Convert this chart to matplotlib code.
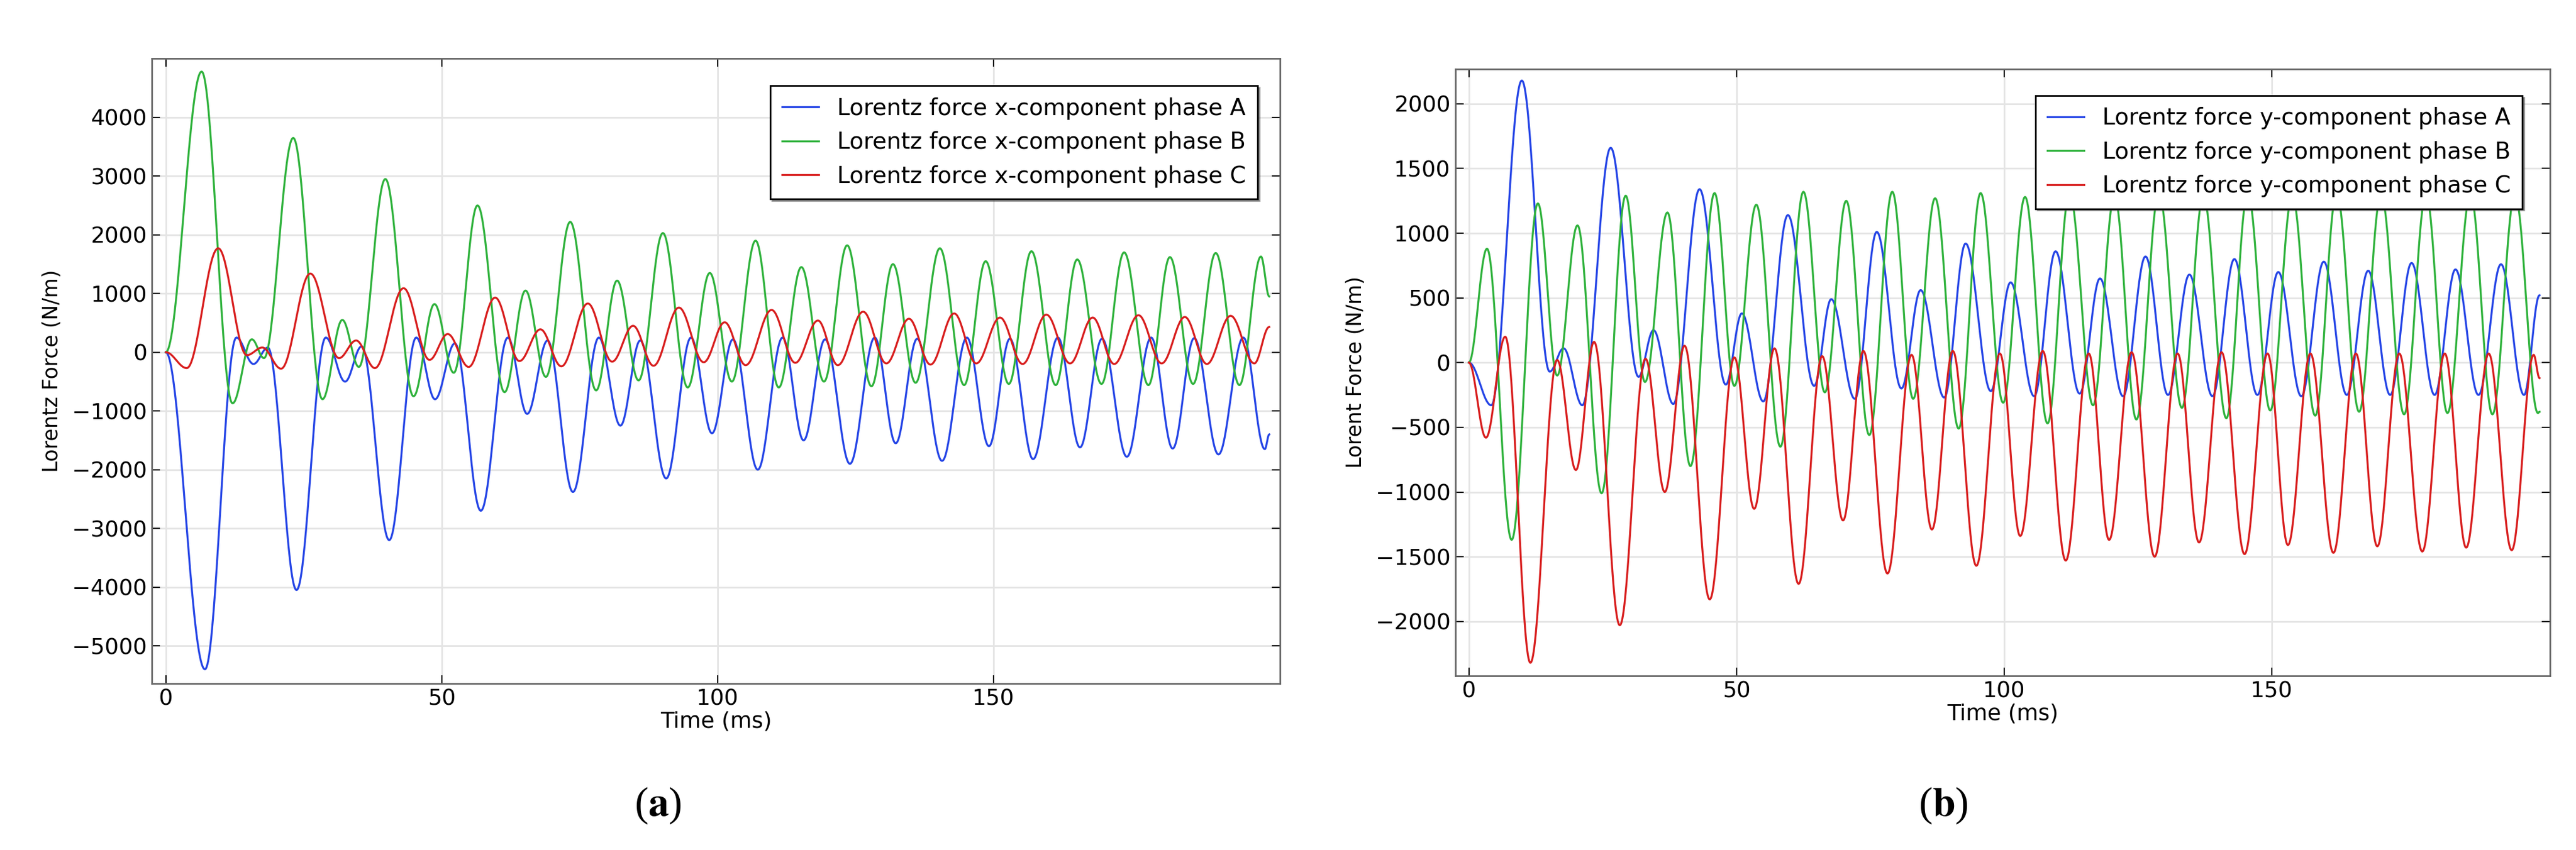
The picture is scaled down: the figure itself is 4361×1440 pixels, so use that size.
import numpy as np
import matplotlib
matplotlib.use("Agg")
import matplotlib.pyplot as plt

# ---- extrema (time ms, value N/m) ----
ax_t = [0, 7.1, 12.8, 15.9, 18.5, 23.7, 29.0, 32.5, 35.5, 40.5, 45.4, 48.8, 52.4, 57.1, 62.0, 65.5, 69.2, 73.8,
        78.5, 82.4, 86.0, 90.7, 95.2, 99.0, 102.8, 107.3, 111.8, 115.6, 119.5, 124.0, 128.5, 132.3, 136.2, 140.7,
        145.2, 149.2, 153.0, 157.2, 161.7, 165.7, 169.7, 174.2, 178.6, 182.5, 186.4, 190.8, 195.3, 199.2, 200]
ax_v = [0, -5400, 250, -200, 80, -4050, 250, -500, 100, -3200, 250, -800, 150, -2700, 250, -1050, 200, -2380,
        250, -1250, 200, -2150, 250, -1380, 220, -2000, 250, -1500, 220, -1900, 250, -1550, 230, -1850,
        250, -1600, 230, -1820, 250, -1620, 230, -1780, 250, -1640, 240, -1740, 250, -1650, -1400]

bx_t = [0, 6.5, 12.1, 15.6, 17.8, 23.1, 28.4, 32.0, 35.0, 39.8, 44.9, 48.7, 52.2, 56.5, 61.4, 65.2, 68.9, 73.3,
        78.0, 81.8, 85.7, 90.1, 94.6, 98.6, 102.6, 106.9, 111.1, 115.2, 119.3, 123.5, 127.9, 131.8, 135.9, 140.3,
        144.7, 148.6, 152.8, 156.9, 161.3, 165.2, 169.6, 173.7, 178.1, 182.0, 186.2, 190.3, 194.6, 198.5, 200]
bx_v = [0, 4780, -870, 220, -100, 3650, -800, 550, -250, 2950, -750, 820, -350, 2500, -680, 1050, -420, 2220,
        -650, 1220, -480, 2030, -600, 1350, -500, 1900, -600, 1450, -500, 1820, -580, 1500, -520, 1770,
        -560, 1550, -540, 1720, -560, 1580, -540, 1700, -560, 1620, -540, 1690, -560, 1630, 950]

cx_t = [0, 3.8, 9.5, 14.7, 17.5, 20.9, 26.2, 31.4, 34.5, 37.9, 43.1, 47.8, 51.1, 54.9, 59.7, 64.1, 67.9, 71.7,
        76.5, 80.9, 84.7, 88.4, 93.0, 97.5, 101.3, 105.1, 109.8, 114.1, 118.2, 121.8, 126.4, 130.6, 134.7, 138.6,
        142.9, 146.9, 151.2, 155.3, 159.6, 163.9, 168.0, 171.9, 176.3, 180.5, 184.7, 188.7, 193.0, 197.3, 200]
cx_v = [0, -270, 1770, -50, 80, -280, 1340, -100, 200, -270, 1090, -130, 310, -250, 930, -150, 390, -240,
        830, -160, 450, -230, 760, -170, 510, -220, 720, -180, 540, -220, 690, -190, 570, -210,
        660, -190, 590, -200, 640, -190, 590, -200, 630, -190, 600, -200, 620, -190, 430]

ay_t = [0, 4.2, 9.9, 15.1, 17.7, 21.2, 26.5, 31.7, 34.5, 38.2, 43.1, 48.0, 51.0, 55.0, 59.6, 64.5, 67.7, 72.1,
        76.2, 80.8, 84.4, 88.8, 92.8, 97.5, 101.2, 105.6, 109.6, 114.1, 117.9, 122.2, 126.4, 130.6, 134.6, 138.9,
        143.0, 147.3, 151.2, 155.5, 159.7, 164.0, 168.0, 172.1, 176.1, 180.4, 184.3, 188.6, 192.8, 197.1, 200]
ay_v = [0, -330, 2180, -70, 110, -330, 1660, -110, 250, -320, 1340, -170, 380, -300, 1140, -180, 490, -280,
        1010, -200, 560, -270, 920, -220, 620, -260, 860, -240, 650, -260, 820, -250, 680, -260,
        800, -250, 700, -260, 780, -250, 710, -250, 770, -250, 720, -250, 760, -250, 520]

by_t = [0, 3.4, 8.0, 12.9, 16.5, 20.3, 24.8, 29.3, 32.9, 37.1, 41.4, 45.9, 49.6, 53.7, 58.2, 62.5, 66.5, 70.5,
        74.8, 79.1, 83.0, 87.1, 91.5, 95.6, 99.8, 103.9, 108.1, 112.2, 116.6, 120.6, 124.7, 128.9, 133.2, 137.2,
        141.5, 145.5, 149.7, 153.8, 158.1, 162.1, 166.3, 170.4, 174.7, 178.8, 182.8, 187.1, 191.2, 195.4, 199.7, 200]
by_v = [0, 880, -1370, 1230, -100, 1060, -1010, 1290, -150, 1160, -800, 1310, -180, 1220, -650, 1320, -230, 1250,
        -560, 1320, -280, 1270, -510, 1310, -310, 1280, -470, 1310, -330, 1290, -440, 1310, -350, 1290,
        -430, 1310, -370, 1290, -410, 1310, -380, 1300, -400, 1300, -390, 1300, -400, 1300, -390, -380]

cy_t = [0, 3.2, 6.8, 11.5, 16.5, 20.0, 23.4, 28.2, 33.0, 36.6, 40.3, 45.0, 49.6, 53.3, 57.1, 61.6, 66.0, 69.9,
        73.7, 78.2, 82.7, 86.5, 90.4, 94.8, 99.2, 103.0, 107.2, 111.5, 115.8, 119.6, 123.8, 128.1, 132.4, 136.4,
        140.6, 144.9, 149.2, 153.0, 157.2, 161.5, 165.7, 169.7, 173.8, 178.1, 182.3, 186.3, 190.5, 194.8, 198.9, 200]
cy_v = [0, -580, 200, -2320, 20, -830, 160, -2030, 30, -1000, 130, -1830, 40, -1130, 110, -1710, 50, -1220,
        90, -1630, 60, -1290, 90, -1570, 70, -1340, 90, -1530, 70, -1370, 80, -1500, 70, -1390,
        80, -1480, 70, -1410, 70, -1470, 70, -1420, 70, -1460, 70, -1430, 70, -1450, 60, -120]

labels_x = ["Lorentz force x-component phase A", "Lorentz force x-component phase B", "Lorentz force x-component phase C"]
labels_y = ["Lorentz force y-component phase A", "Lorentz force y-component phase B", "Lorentz force y-component phase C"]
colors = ["#2545e6", "#2fb23c", "#d81e1e"]


def smooth(t, v, n=40):
    tt, vv = [], []
    for i in range(len(t) - 1):
        s = np.linspace(0, 1, n, endpoint=False)
        tt.append(t[i] + (t[i + 1] - t[i]) * s)
        vv.append(v[i] + (v[i + 1] - v[i]) * (1 - np.cos(np.pi * s)) / 2)
    tt.append([t[-1]]); vv.append([v[-1]])
    return np.concatenate(tt), np.concatenate(vv)


fig = plt.figure(figsize=(43.61, 14.4), dpi=100)
ax1 = fig.add_axes([0.059, 0.196, 0.438, 0.735])
ax2 = fig.add_axes([0.565, 0.205, 0.425, 0.714])


def style(ax, ylabel, yticks, ylim, labels, legbox):
    ax.set_xlim(-2.5, 202)
    ax.set_ylim(*ylim)
    ax.set_xticks([0, 50, 100, 150])
    ax.set_yticks(yticks)
    ax.grid(True, color="#e4e4e4", lw=2)
    ax.set_axisbelow(True)
    ax.tick_params(direction="in", top=True, right=True, length=10, width=1.5, labelsize=27, pad=6)
    for sp in ax.spines.values():
        sp.set_color("#666666"); sp.set_linewidth(2)
    ax.set_xlabel("Time (ms)", fontsize=27, labelpad=2)
    ax.set_ylabel(ylabel, fontsize=25, labelpad=12)
    leg = ax.legend(labels, loc="upper right", bbox_to_anchor=legbox, fontsize=28, frameon=True,
                    fancybox=False, shadow=True, edgecolor="black", handlelength=1.6,
                    labelspacing=0.5, borderpad=0.5)
    leg.get_frame().set_linewidth(2)


for t, v, c in [(ax_t, ax_v, colors[0]), (bx_t, bx_v, colors[1]), (cx_t, cx_v, colors[2])]:
    ax1.plot(*smooth(t, v), color=c, lw=2.4)
for t, v, c in [(ay_t, ay_v, colors[0]), (by_t, by_v, colors[1]), (cy_t, cy_v, colors[2])]:
    ax2.plot(*smooth(t, v), color=c, lw=2.4)

style(ax1, "Lorentz Force (N/m)", np.arange(-5000, 4001, 1000), (-5640, 5000), labels_x, (0.99, 0.975))
style(ax2, "Lorent Force (N/m)", np.arange(-2000, 2001, 500), (-2420, 2270), labels_y, (0.985, 0.975))

plt.rcParams["mathtext.fontset"] = "stix"
fig.text(0.2555, 0.04, r"($\mathbf{a}$)", fontsize=50, family="Liberation Serif", ha="center")
fig.text(0.7545, 0.04, r"($\mathbf{b}$)", fontsize=50, family="Liberation Serif", ha="center")

fig.savefig("out.png", dpi=100)
